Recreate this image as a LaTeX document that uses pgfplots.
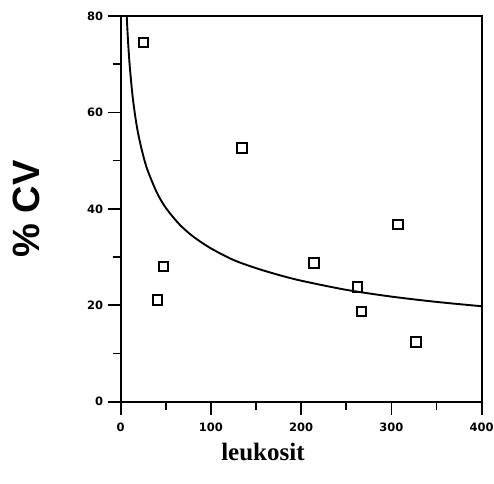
\documentclass[border=0pt]{standalone}
\usepackage{fontspec}
\setmainfont{Liberation Serif}
\newfontfamily\tickfont{DejaVu Sans}
\newfontfamily\labfont{Liberation Sans}
\usepackage{pgfplots}
\pgfplotsset{compat=1.18}
\begin{document}
\begin{tikzpicture}
\path[use as bounding box] (-120.7pt,-81.3pt) rectangle (373.3pt,401.7pt);
\begin{axis}[
  at={(0pt,0pt)}, anchor=south west,
  scale only axis, width=361pt, height=385.7pt,
  xmin=0, xmax=400, ymin=0, ymax=80,
  xtick={0,100,200,300,400}, ytick={0,20,40,60,80},
  minor xtick={50,150,250,350}, minor ytick={10,30,50,70},
  tick align=outside, xtick pos=bottom, ytick pos=left,
  major tick length=13pt, minor tick length=8pt,
  axis line style={line width=1.9pt},
  every tick/.style={line width=1.7pt, black},
  /pgf/number format/assume math mode=true,
  tick label style={font=\tickfont\bfseries\fontsize{11.5}{11.5}\selectfont},
  xticklabel style={yshift=-5pt},
  yticklabel style={xshift=-1pt},
  xlabel={leukosit},
  xlabel style={font=\bfseries\fontsize{25}{25}\selectfont, at={(axis description cs:0.394,-0.153)}, anchor=base},
  ylabel={\% CV},
  ylabel style={font=\labfont\bfseries\fontsize{38}{38}\selectfont, at={(axis description cs:-0.2623,0.5)}, anchor=center},
  clip=true,
]
\addplot[black, line width=1.9pt, smooth] coordinates {
(6.5,80.7) (7,78.7) (8,75.2) (9,72.2) (10,69.7) (12,65.5) (14,62.1) (17,58.1)
(20,55.0) (25,51.0) (30,47.9) (40,43.4) (50,40.2) (65,36.8) (80,34.3) (100,31.8)
(125,29.4) (150,27.7) (175,26.3) (200,25.1) (250,23.2) (300,21.8) (350,20.7) (400,19.8)
};
\addplot[only marks, mark=square, mark size=4.7pt, mark options={line width=2pt, black}] coordinates {
(25.1,74.5) (41.1,21.1) (47.4,28.1) (134.4,52.6) (214,28.8) (262.2,23.8) (267,18.65) (307.4,36.8) (327,12.4)
};
\end{axis}
\end{tikzpicture}
\end{document}
